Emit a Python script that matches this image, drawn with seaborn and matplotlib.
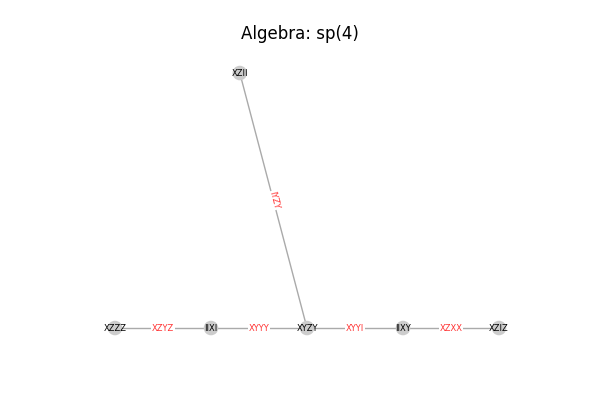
import matplotlib
matplotlib.use("Agg")
import matplotlib.pyplot as plt
import seaborn as sns
import numpy as np
import pandas as pd

nodes = ["XZII", "XZZZ", "IIXI", "XYZY", "IIXY", "XZIZ"]
node_x = [0.30, -1.0, 0.0, 1.0, 2.0, 3.0]
node_y = [2.65, 0.0, 0.0, 0.0, 0.0, 0.0]
edges = [("XZII", "XYZY"), ("XZZZ", "IIXI"), ("IIXI", "XYZY"),
         ("XYZY", "IIXY"), ("IIXY", "XZIZ")]
edge_labels = ["IYZY", "XZYZ", "XYYY", "XYYI", "XZXX"]

pos = dict(zip(nodes, zip(node_x, node_y)))
df = pd.DataFrame({"node": nodes, "x": node_x, "y": node_y})

fig = plt.figure(figsize=(6, 4), dpi=100)
ax = fig.add_axes([0, 0, 1, 1])
ax.set_xlim(-2.198, 4.052)
ax.set_ylim(-0.748, 3.409)
ax.axis("off")

for (a, b), lab in zip(edges, edge_labels):
    (x1, y1), (x2, y2) = pos[a], pos[b]
    ax.plot([x1, x2], [y1, y2], color="#aaaaaa", lw=1, zorder=1)
    ang = 0
    if x1 != x2 and y1 != y2:
        p1 = ax.transData.transform((x1, y1))
        p2 = ax.transData.transform((x2, y2))
        ang = np.degrees(np.arctan2(p2[1] - p1[1], p2[0] - p1[0]))
        if ang < -90:
            ang += 180
        elif ang > 90:
            ang -= 180
    ax.text((x1 + x2) / 2, (y1 + y2) / 2, lab, color="#ff3333", fontsize=6,
            ha="center", va="center", rotation=ang, zorder=3,
            bbox=dict(fc="white", ec="none", pad=0.5))

sns.scatterplot(data=df, x="x", y="y", ax=ax, s=110, color="#cccccc",
                edgecolor="none", zorder=2, legend=False)
for n, x, y in zip(nodes, node_x, node_y):
    ax.text(x, y, n, fontsize=6, ha="center", va="center", zorder=4)

fig.text(0.5, 0.915, "Algebra: sp(4)", ha="center", va="center", fontsize=12)
fig.savefig("out.png", dpi=100)
